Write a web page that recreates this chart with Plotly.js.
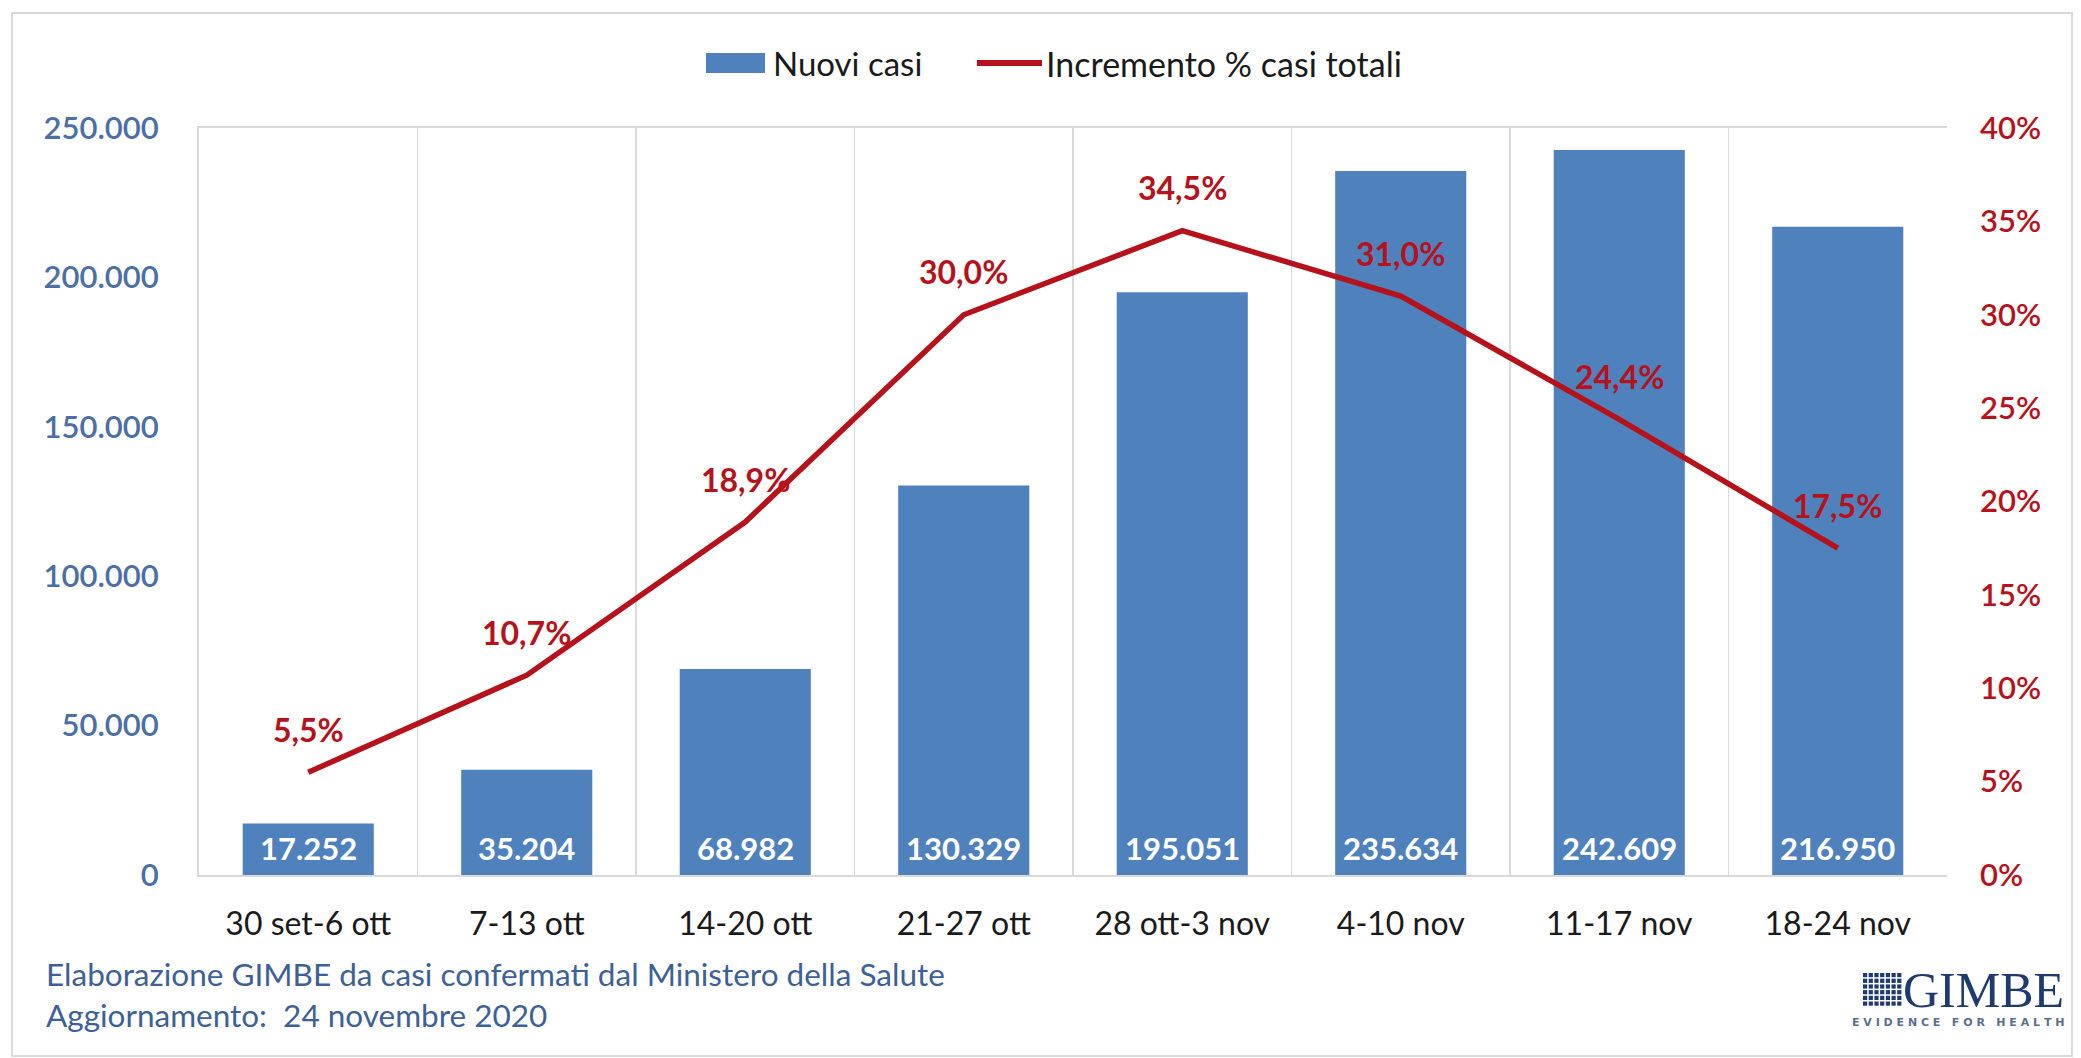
<!DOCTYPE html>
<html>
<head>
<meta charset="utf-8">
<script src="https://cdn.plot.ly/plotly-3.0.1.min.js"></script>
<style>html,body{margin:0;padding:0;background:#fff;}#chart{width:2081px;height:1058px;}</style>
</head>
<body>
<div id="chart"></div>
<script>
// ---- data ----
const weeks = ["30 set-6 ott","7-13 ott","14-20 ott","21-27 ott","28 ott-3 nov","4-10 nov","11-17 nov","18-24 nov"];
const nuoviCasi = [17252, 35204, 68982, 130329, 195051, 235634, 242609, 216950];
const incrementoPct = [5.5, 10.7, 18.9, 30.0, 34.5, 31.0, 24.4, 17.5];
const leftTicks = [0, 50000, 100000, 150000, 200000, 250000];
const rightTicks = [0, 5, 10, 15, 20, 25, 30, 35, 40];
const seriesNames = ["Nuovi casi", "Incremento % casi totali"];
const footer1 = "Elaborazione GIMBE da casi confermati dal Ministero della Salute";
const footer2 = "Aggiornamento:  24 novembre 2020";

// ---- geometry helpers (pixel -> paper) ----
const W = 2081, H = 1058;
const L = 199, R = 1947, T = 128, B = 875;
const px = x => (x - L) / (R - L);
const py = y => (B - y) / (B - T);

const FONT = "Lato, 'Open Sans', sans-serif";
const BLUE = "#4f81bd";
const RED = "#b5121b";

const traces = [
  {
    type: "bar", name: seriesNames[0], x: weeks, y: nuoviCasi,
    marker: {color: BLUE}, width: 0.6, hoverinfo: "skip", showlegend: false
  },
  {
    type: "scatter", mode: "lines", name: seriesNames[1],
    x: weeks, y: incrementoPct, yaxis: "y2",
    line: {color: RED, width: 5.5}, hoverinfo: "skip", showlegend: false
  }
];

const annotations = [];
// bar value labels
nuoviCasi.forEach((v, i) => {
  annotations.push({
    x: weeks[i], y: 0, xref: "x", yref: "y", yanchor: "middle", yshift: 27,
    text: v.toLocaleString("de-DE"), showarrow: false,
    font: {family: FONT, size: 31, color: "#ffffff", weight: 700}
  });
});
// line value labels
incrementoPct.forEach((v, i) => {
  annotations.push({
    x: weeks[i], y: v, xref: "x", yref: "y2", yanchor: "middle", yshift: 43,
    text: v.toFixed(1).replace(".", ",") + "%", showarrow: false,
    font: {family: FONT, size: 32, color: RED, weight: 700}
  });
});
// custom legend text
annotations.push({
  xref: "paper", yref: "paper", x: px(771), y: py(63), xanchor: "left", yanchor: "middle",
  text: seriesNames[0], showarrow: false, font: {family: FONT, size: 33, color: "#1a1a1a"}
});
annotations.push({
  xref: "paper", yref: "paper", x: px(1044), y: py(63), xanchor: "left", yanchor: "middle",
  text: seriesNames[1], showarrow: false, font: {family: FONT, size: 34, color: "#1a1a1a"}
});
// footer
annotations.push({
  xref: "paper", yref: "paper", x: px(44), y: py(974), xanchor: "left", yanchor: "middle",
  text: footer1, showarrow: false, font: {family: FONT, size: 31.5, color: "#3d6196"}
});
annotations.push({
  xref: "paper", yref: "paper", x: px(44), y: py(1015), xanchor: "left", yanchor: "middle",
  text: footer2, showarrow: false, font: {family: FONT, size: 31.5, color: "#3d6196"}
});
// logo text
annotations.push({
  xref: "paper", yref: "paper", x: px(1901), y: py(990), xanchor: "left", yanchor: "middle",
  text: "GIMBE", showarrow: false, font: {family: "'Liberation Serif', serif", size: 50, color: "#1f3a6e"}
});
annotations.push({
  xref: "paper", yref: "paper", x: px(1958), y: py(1022), xanchor: "center", yanchor: "middle",
  text: "E V I D E N C E   F O R   H E A L T H", showarrow: false,
  font: {family: "'DejaVu Sans', sans-serif", size: 11, color: "#5a6f8f", weight: 700}
});

const shapes = [];
// outer border
shapes.push({type: "rect", xref: "paper", yref: "paper", x0: px(12), x1: px(2072), y0: py(1056), y1: py(13),
  line: {color: "#d9d9d9", width: 2}, fillcolor: "rgba(0,0,0,0)", layer: "below"});
// legend symbols
shapes.push({type: "rect", xref: "paper", yref: "paper", x0: px(706), x1: px(765), y0: py(73), y1: py(53),
  line: {width: 0}, fillcolor: BLUE});
shapes.push({type: "line", xref: "paper", yref: "paper", x0: px(977), x1: px(1042), y0: py(63), y1: py(63),
  line: {color: RED, width: 6}});
// logo grid icon
const gx0 = 1863, gy0 = 973, cols = 7, rows = 6, cell = 5.7;
for (let r = 0; r < rows; r++) {
  for (let c = 0; c < cols; c++) {
    const x = gx0 + c * cell, y = gy0 + r * cell;
    shapes.push({type: "rect", xref: "paper", yref: "paper",
      x0: px(x), x1: px(x + cell - 1.5), y0: py(y + cell - 1.5), y1: py(y),
      line: {width: 0}, fillcolor: "#1f3a6e"});
  }
}

const layout = {
  width: W, height: H,
  margin: {l: L, r: W - R, t: T, b: H - B, pad: 0},
  paper_bgcolor: "#ffffff", plot_bgcolor: "#ffffff",
  separators: ",.",
  showlegend: false,
  xaxis: {
    type: "category", tickson: "boundaries", showgrid: true, gridcolor: "#d9d9d9", gridwidth: 1.5,
    ticks: "", showline: true, linecolor: "#d9d9d9", linewidth: 2, mirror: true,
    tickfont: {family: FONT, size: 32, color: "#1a1a1a"}, ticklabelstandoff: 20,
    range: [-0.5, 7.5], fixedrange: true
  },
  yaxis: {
    range: [0, 250000], tickvals: leftTicks, tickformat: ",d", showgrid: false, zeroline: false,
    ticks: "", showline: true, linecolor: "#d9d9d9", linewidth: 2,
    tickfont: {family: FONT, size: 31, color: "#4b6fa5", weight: 600}, ticklabelstandoff: 32, fixedrange: true
  },
  yaxis2: {
    overlaying: "y", side: "right", range: [0, 40], tickvals: rightTicks,
    ticktext: rightTicks.map(v => v + "%"),
    showgrid: false, zeroline: false, ticks: "", showline: false,
    tickfont: {family: FONT, size: 31, color: RED, weight: 600}, ticklabelstandoff: 32, fixedrange: true
  },
  bargap: 0.4,
  annotations: annotations,
  shapes: shapes
};

Plotly.newPlot("chart", traces, layout, {staticPlot: true, displayModeBar: false});
</script>
</body>
</html>
